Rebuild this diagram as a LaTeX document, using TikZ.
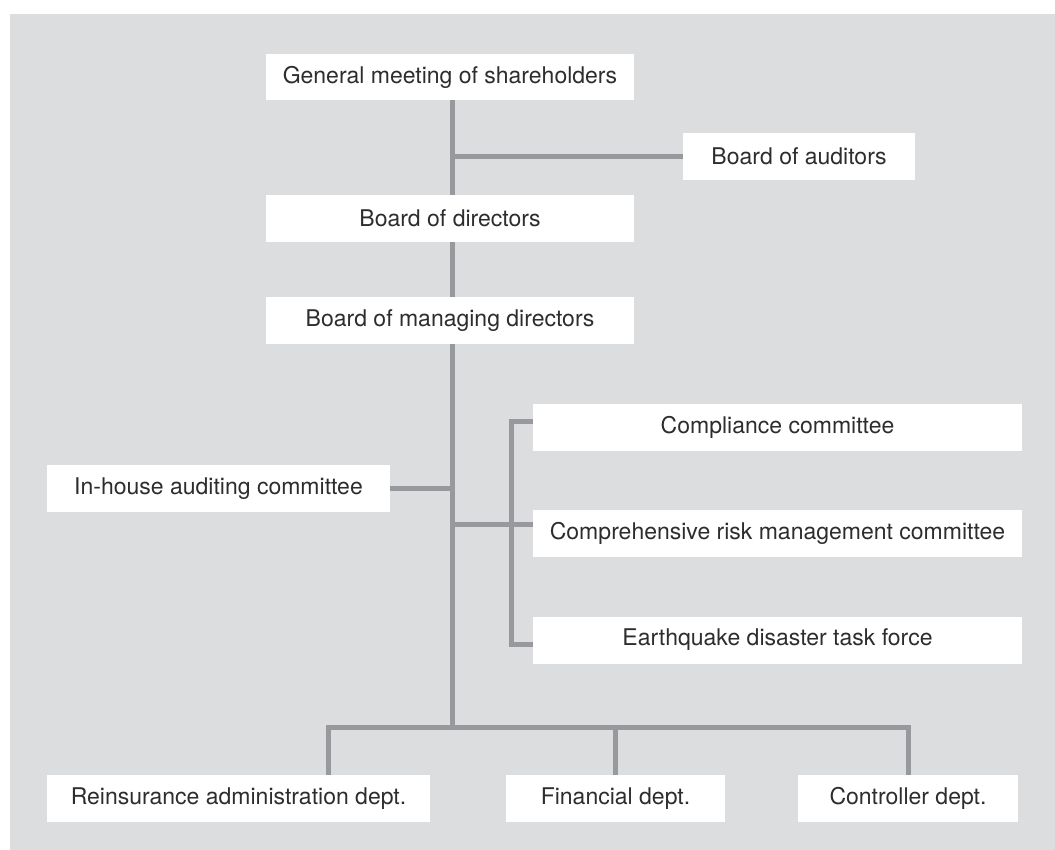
\documentclass[tikz,border=0pt]{standalone}
\usepackage{fontspec}
\setmainfont{TeX Gyre Heros}
\usetikzlibrary{backgrounds, calc}
\definecolor{panelgray}{RGB}{220,221,223}
\definecolor{linkgray}{RGB}{152,153,156}
\definecolor{textgray}{RGB}{45,45,45}

\begin{document}
\begin{tikzpicture}[
    x=0.5pt, y=-0.5pt,
    orgbox/.style={fill=white, inner sep=0pt, minimum height=23.5pt, text=textgray, font=\fontsize{11.5}{14}\selectfont},
    link/.style={draw=linkgray, line width=2.5pt}
]
    \useasboundingbox (0,0) rectangle (1055,850);

    % Governing bodies
    \node[orgbox, minimum width=184pt, minimum height=23pt] (general) at (450,77) {General meeting of shareholders};
    \node[orgbox, minimum width=116pt] (auditors) at (799,156.5) {Board of auditors};
    \node[orgbox, minimum width=184pt] (directors) at (450,218.5) {Board of directors};
    \node[orgbox, minimum width=184pt] (managing) at (450,320.5) {Board of managing directors};

    % Committees
    \node[orgbox, minimum width=171.5pt] (inhouse) at (218.5,488.5) {In-house auditing committee};
    \node[orgbox, minimum width=244.5pt] (compliance) at (777.5,427.5) {Compliance committee};
    \node[orgbox, minimum width=244.5pt] (risk) at (777.5,533.5) {Comprehensive risk management committee};
    \node[orgbox, minimum width=244.5pt] (quake) at (777.5,640) {Earthquake disaster task force};

    % Departments
    \node[orgbox, minimum width=191.5pt] (reins) at (238.5,798.5) {Reinsurance administration dept.};
    \node[orgbox, minimum width=109.5pt] (fin) at (615.5,798.5) {Financial dept.};
    \node[orgbox, minimum width=110pt] (ctrl) at (908,798.5) {Controller dept.};

    % Junction points
    \coordinate (trunkend) at (452,727);
    \coordinate (busL) at (328,727);
    \coordinate (busR) at (908,727);
    \coordinate (fork) at (511,524);

    \begin{scope}[on background layer]
        \fill[panelgray] (10,14) rectangle (1055,850);
        \draw[link] (general.south -| trunkend) -- (trunkend);
        \draw[link] (auditors.west) -- (auditors.west -| trunkend);
        \draw[link] (inhouse.east) -- (inhouse.east -| trunkend);
        \draw[link] ([yshift=4.75pt]risk.west) -- ([yshift=4.75pt]risk.west -| trunkend);
        \draw[link] ([yshift=3.25pt]compliance.west) -| (fork) |- ([yshift=-2pt]quake.west);
        \draw[link] (reins.north -| busL) -- (busL) -- (busR) -- (ctrl.north);
        \draw[link] (fin.north) -- (fin.north |- busL);
    \end{scope}
\end{tikzpicture}
\end{document}
